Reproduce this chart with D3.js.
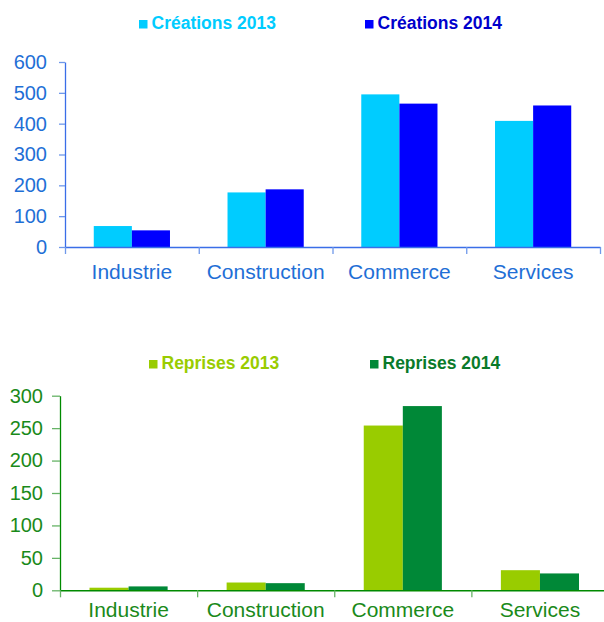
<!DOCTYPE html>
<html>
<head>
<meta charset="utf-8">
<script src="https://cdn.jsdelivr.net/npm/d3@7"></script>
<style>
    body { margin: 0; background: #fff; }
    svg text { font-family: "Liberation Sans", Arial, sans-serif; }
</style>
</head>
<body>
<div id="chart"></div>
<script>

// data
let categories = ["Industrie", "Construction", "Commerce", "Services"];
let years = ["2013", "2014"];

let creations2013 = [68, 177, 495, 409];
let creations2014 = [54, 187, 465, 459];
let creationTicks = [0, 100, 200, 300, 400, 500, 600];

let reprises2013 = [4, 12, 254, 31];
let reprises2014 = [6, 11, 284, 26];
let repriseTicks = [0, 50, 100, 150, 200, 250, 300];


let svg = d3.select("#chart").append("svg")
    .attr("width", 604)
    .attr("height", 622);

function drawPanel(opt) {
    let g = svg.append("g");

    let x = d3.scaleBand()
        .domain(categories)
        .range([opt.left, opt.right])
        .paddingInner(0)
        .paddingOuter(0);

    let xSub = d3.scaleBand()
        .domain(years)
        .range([0, x.bandwidth()])
        .paddingInner(0)
        .paddingOuter(0.755);

    let y = d3.scaleLinear()
        .domain([0, d3.max(opt.ticks)])
        .range([opt.bottom, opt.top]);

    // bars
    let rows = [];
    categories.forEach((c, i) => {
        years.forEach((yr, j) => {
            rows.push({cat: c, year: yr, value: opt.series[j][i], color: opt.colors[j]});
        });
    });

    g.selectAll(".bar")
        .data(rows)
        .join("rect")
        .attr("class", "bar")
        .attr("x", d => x(d.cat) + xSub(d.year))
        .attr("width", xSub.bandwidth())
        .attr("y", d => y(d.value))
        .attr("height", d => y(0) - y(d.value))
        .attr("fill", d => d.color);

    // y axis
    let yAxis = d3.axisLeft(y)
        .tickValues(opt.ticks)
        .tickSize(opt.tickLen)
        .tickSizeOuter(0)
        .tickPadding(opt.tickPad);

    let yg = g.append("g")
        .attr("transform", `translate(${opt.left}, 0)`)
        .call(yAxis);
    yg.select(".domain").attr("stroke", opt.axisColor).attr("stroke-width", 1.3);
    yg.selectAll(".tick line").attr("stroke", opt.tickColor).attr("stroke-width", 1.3);
    yg.selectAll(".tick text")
        .attr("fill", opt.textColor)
        .style("font-size", "20px");

    // x axis separators
    let xSep = d3.scaleLinear()
        .domain([0, categories.length])
        .range([opt.left, opt.right]);

    let sepg = g.append("g")
        .attr("transform", `translate(0, ${opt.bottom})`)
        .call(d3.axisBottom(xSep)
            .tickValues(d3.range(categories.length + 1))
            .tickSize(7)
            .tickSizeOuter(0)
            .tickFormat(""));
    sepg.select(".domain").attr("stroke", opt.axisColor).attr("stroke-width", 1.5);
    sepg.selectAll(".tick line").attr("stroke", opt.tickColor).attr("stroke-width", 1.3);

    // category labels
    let labg = g.append("g")
        .attr("transform", `translate(0, ${opt.bottom})`)
        .call(d3.axisBottom(x).tickSize(0).tickPadding(opt.labelPad));
    labg.select(".domain").remove();
    labg.selectAll(".tick text")
        .attr("fill", opt.textColor)
        .style("font-size", "21px");

    // legend
    opt.legend.forEach((name, j) => {
        let lx = opt.legendX[j];
        g.append("rect")
            .attr("x", lx)
            .attr("y", opt.legendY - 9)
            .attr("width", 8.5)
            .attr("height", 8.5)
            .attr("fill", opt.colors[j]);
        g.append("text")
            .attr("x", lx + opt.legendGap)
            .attr("y", opt.legendY)
            .attr("fill", opt.legendText[j])
            .style("font-size", "17.5px")
            .style("font-weight", "bold")
            .text(name);
    });
}

drawPanel({
    series: [creations2013, creations2014],
    ticks: creationTicks,
    colors: ["#00ccff", "#0000ff"],
    legend: ["Créations 2013", "Créations 2014"],
    legendText: ["#00ccff", "#0000cc"],
    legendX: [139, 365],
    legendGap: 12.5,
    legendY: 29,
    left: 65, right: 600, top: 62, bottom: 247,
    tickLen: 6, tickPad: 12, labelPad: 17,
    axisColor: "#3a6ee8", tickColor: "#6f98ea", textColor: "#1f6fd6"
});

drawPanel({
    series: [reprises2013, reprises2014],
    ticks: repriseTicks,
    colors: ["#99cc00", "#008837"],
    legend: ["Reprises 2013", "Reprises 2014"],
    legendText: ["#99cc00", "#0a7a2a"],
    legendX: [149, 370],
    legendGap: 12.5,
    legendY: 369,
    left: 60, right: 608.5, top: 395.7, bottom: 590.3,
    tickLen: 8, tickPad: 9, labelPad: 12,
    axisColor: "#008a00", tickColor: "#66b366", textColor: "#1a8a1a"
});

</script>
</body>
</html>
